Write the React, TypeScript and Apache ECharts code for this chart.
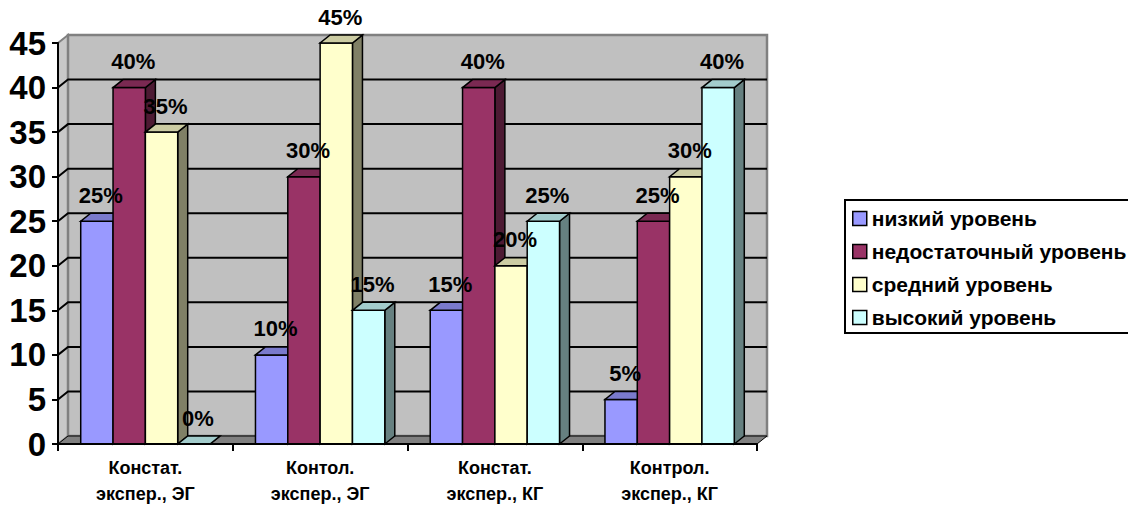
import React, { useEffect, useRef } from "react";
import * as echarts from "echarts";

const categories = [
  "Констат.\nэкспер., ЭГ",
  "Контол.\nэкспер., ЭГ",
  "Констат.\nэкспер., КГ",
  "Контрол.\nэкспер., КГ",
];
const seriesNames = ["низкий уровень", "недостаточный уровень", "средний уровень", "высокий уровень"];
const lowValues = [25, 10, 15, 5];
const insufficientValues = [40, 30, 40, 25];
const mediumValues = [35, 45, 20, 30];
const highValues = [0, 15, 25, 40];
const yTicks = [0, 5, 10, 15, 20, 25, 30, 35, 40, 45];

const seriesValues = [lowValues, insufficientValues, mediumValues, highValues];
const frontColors = ["#9999FF", "#993366", "#FFFFCC", "#CCFFFF"];
const topColors = ["#7A7ACC", "#7A2952", "#CCCCA3", "#A3CCCC"];
const sideColors = ["#4D4D80", "#4D1A33", "#808066", "#668080"];

const DX = 10;
const DY = -8;
const FONT = "'Liberation Sans', Arial, sans-serif";

export default function App() {
  const ref = useRef<HTMLDivElement>(null);
  useEffect(() => {
    document.body.style.margin = "0";
    const chart = echarts.init(ref.current!, null, { renderer: "svg" });

    const wallSeries = {
      type: "custom",
      name: "walls",
      z: 1,
      silent: true,
      data: [[0, 0]],
      renderItem: (params: any, api: any) => {
        const cs = params.coordSys;
        const left = cs.x;
        const right = cs.x + cs.width;
        const top = cs.y;
        const bottom = cs.y + cs.height;
        const children: any[] = [];
        children.push({
          type: "polygon",
          shape: { points: [[left, bottom], [left, top], [left + DX, top + DY], [left + DX, bottom + DY]] },
          style: { fill: "#C8C8C8", stroke: "#808080", lineWidth: 2 },
        });
        children.push({
          type: "rect",
          shape: { x: left + DX, y: top + DY, width: cs.width, height: cs.height },
          style: { fill: "#C0C0C0", stroke: "#808080", lineWidth: 2.5 },
        });
        children.push({
          type: "polygon",
          shape: { points: [[left, bottom], [right, bottom], [right + DX, bottom + DY], [left + DX, bottom + DY]] },
          style: { fill: "#808080", stroke: "#000", lineWidth: 1 },
        });
        yTicks.slice(1, -1).forEach((v) => {
          const y = api.coord([0, v])[1];
          children.push({
            type: "polyline",
            shape: { points: [[left, y], [left + DX, y + DY], [right + DX, y + DY]] },
            style: { stroke: "#000", lineWidth: 2, fill: null },
          });
        });
        return { type: "group", children };
      },
    };

    const barSeries = seriesNames.map((name, s) => ({
      type: "custom",
      name,
      z: 2,
      itemStyle: { color: frontColors[s], borderColor: "#000", borderWidth: 1.5 },
      data: seriesValues[s].map((v, i) => [i, v]),
      renderItem: (params: any, api: any) => {
        const cat = api.value(0);
        const v = api.value(1);
        const base = api.coord([cat, 0]);
        const topPt = api.coord([cat, v]);
        const band = api.size([1, 0])[0];
        const bw = band * 0.185;
        const x0 = base[0] + (s - 2) * bw;
        const x1 = x0 + bw;
        const yb = base[1];
        const yt = topPt[1];
        return {
          type: "group",
          children: [
            {
              type: "polygon",
              shape: { points: [[x1, yt], [x1, yb], [x1 + DX, yb + DY], [x1 + DX, yt + DY]] },
              style: { fill: sideColors[s], stroke: "#000", lineWidth: 1.5 },
            },
            {
              type: "rect",
              shape: { x: x0, y: yt, width: bw, height: yb - yt },
              style: { fill: frontColors[s], stroke: "#000", lineWidth: 1.5 },
            },
            {
              type: "polygon",
              shape: { points: [[x0, yt], [x1, yt], [x1 + DX, yt + DY], [x0 + DX, yt + DY]] },
              style: { fill: topColors[s], stroke: "#000", lineWidth: 1.5 },
            },
            {
              type: "text",
              z2: 100,
              style: {
                text: `${v}%`,
                x: x0 + bw / 2 + 4,
                y: yt - 26,
                align: "center",
                verticalAlign: "middle",
                fontSize: 22,
                fontWeight: "bold",
                fontFamily: FONT,
                fill: "#000",
              },
            },
          ],
        };
      },
    }));

    chart.setOption({
      animation: false,
      backgroundColor: "#fff",
      grid: { left: 58, right: 371, top: 43, bottom: 63 },
      xAxis: {
        type: "category",
        data: categories,
        boundaryGap: true,
        z: 10,
        axisLine: { lineStyle: { color: "#000", width: 2 } },
        axisTick: { show: true, length: 7, lineStyle: { color: "#000", width: 2 } },
        axisLabel: {
          color: "#000",
          fontSize: 18,
          fontWeight: "bold",
          fontFamily: FONT,
          lineHeight: 26,
          margin: 11,
          interval: 0,
        },
        splitLine: { show: false },
      },
      yAxis: {
        type: "value",
        min: 0,
        max: 45,
        interval: 5,
        z: 10,
        axisLine: { show: true, lineStyle: { color: "#000", width: 2 } },
        axisTick: { show: true, length: 6, lineStyle: { color: "#000", width: 2 } },
        axisLabel: {
          color: "#000",
          fontSize: 33,
          fontWeight: "bold",
          fontFamily: FONT,
          margin: 12,
        },
        splitLine: { show: false },
      },
      graphic: [
        {
          type: "rect",
          shape: { x: 845, y: 200, width: 320, height: 133 },
          style: { fill: "#fff", stroke: "#000", lineWidth: 2 },
          z: 0,
        },
      ],
      legend: {
        orient: "vertical",
        left: 845,
        top: 200,
        padding: [8, 10, 5, 7],
        borderWidth: 0,
        itemWidth: 14,
        itemHeight: 14,
        itemGap: 12,
        selectedMode: false,
        z: 5,
        textStyle: { fontSize: 21, fontWeight: "bold", fontFamily: FONT, color: "#000", lineHeight: 21 },
        data: seriesNames.map((n, i) => ({
          name: n,
          icon: "rect",
          itemStyle: { color: frontColors[i], borderColor: "#000", borderWidth: 1.5 },
        })),
      },
      series: [wallSeries, ...barSeries],
    });
    return () => chart.dispose();
  }, []);
  return <div ref={ref} style={{ width: 1128, height: 507 }} />;
}
